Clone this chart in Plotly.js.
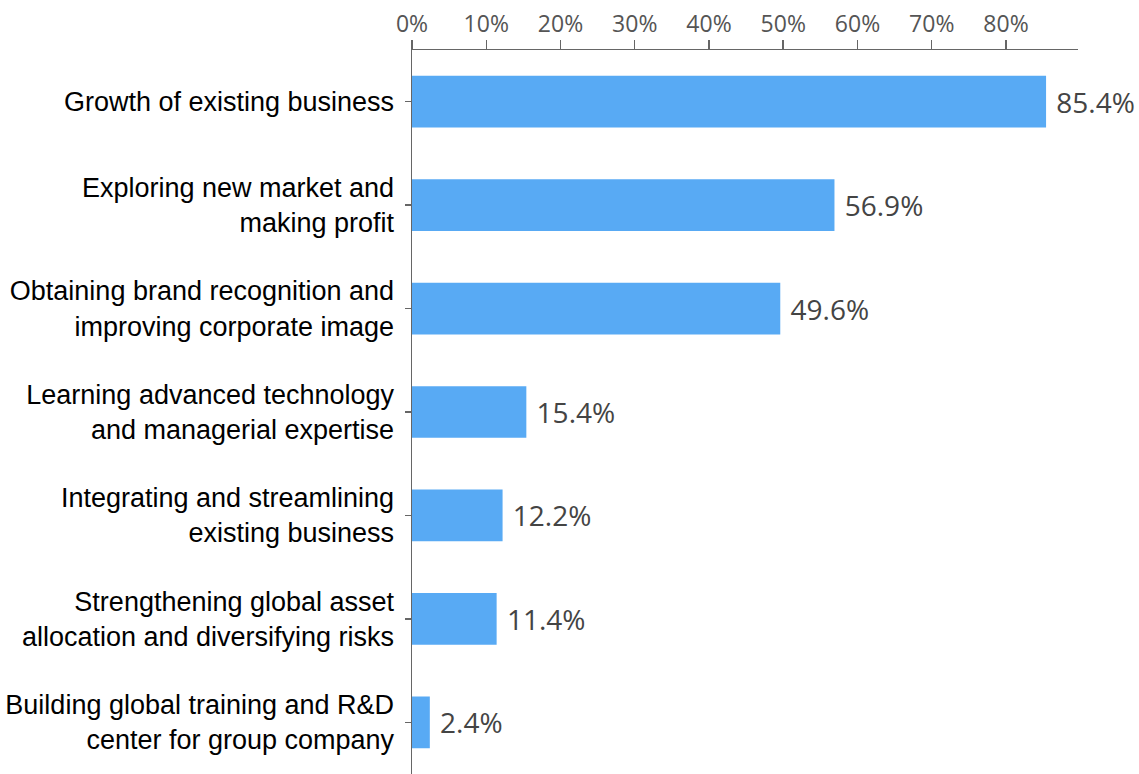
<!DOCTYPE html>
<html>
<head>
<meta charset="utf-8">
<script src="https://cdn.plot.ly/plotly-3.0.1.min.js"></script>
<style>html,body{margin:0;padding:0;background:#fff;}#chart{width:1139px;height:774px;}</style>
</head>
<body>
<div id="chart"></div>
<script>
const categories = [
  "Growth of existing business",
  "Exploring new market and<br>making profit",
  "Obtaining brand recognition and<br>improving corporate image",
  "Learning advanced technology<br>and managerial expertise",
  "Integrating and streamlining<br>existing business",
  "Strengthening global asset<br>allocation and diversifying risks",
  "Building global training and R&D<br>center for group company"
];
const values = [85.4, 56.9, 49.6, 15.4, 12.2, 11.4, 2.4];
const tickVals = [0, 10, 20, 30, 40, 50, 60, 70, 80];
const tickText = ["0%", "10%", "20%", "30%", "40%", "50%", "60%", "70%", "80%"];

const trace = {
  type: "bar",
  orientation: "h",
  y: categories,
  x: values,
  width: 0.5,
  marker: {color: "#58aaf4"},
  text: values.map(v => "\u00a0" + v.toFixed(1) + "%"),
  textposition: "outside",
  cliponaxis: false,
  textfont: {family: "Open Sans, Noto Sans, sans-serif", size: 28, color: "#444"},
  hoverinfo: "none"
};

const layout = {
  width: 1139, height: 774,
  margin: {l: 412, r: 61, t: 50, b: 0, pad: 0},
  paper_bgcolor: "#fff", plot_bgcolor: "#fff",
  showlegend: false,
  bargap: 0.5,
  xaxis: {
    side: "top",
    range: [0, 89.7],
    tickvals: tickVals, ticktext: tickText,
    ticks: "outside", ticklen: 9, tickwidth: 1.5, tickcolor: "#666",
    showline: true, linecolor: "#666", linewidth: 1.5,
    showgrid: false, zeroline: false,
    ticklabelstandoff: -2,
    tickfont: {family: "Open Sans, Noto Sans, sans-serif", size: 23, color: "#555"}
  },
  yaxis: {
    autorange: "reversed",
    ticks: "outside", ticklen: 6, tickwidth: 1.5, tickcolor: "#666",
    showline: true, linecolor: "#666", linewidth: 1.5,
    showgrid: false, zeroline: false,
    ticklabelstandoff: 5,
    tickfont: {family: "Liberation Sans, Arial, sans-serif", size: 27, color: "#000"}
  }
};

Plotly.newPlot("chart", [trace], layout, {displayModeBar: false, staticPlot: true});
</script>
</body>
</html>
